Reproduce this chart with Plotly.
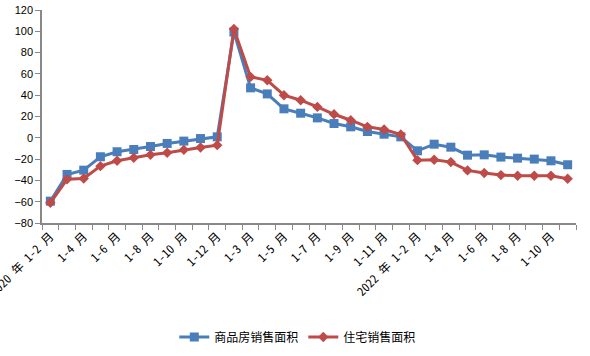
import plotly.graph_objects as go

categories = (
    ["2020 年 1-2 月"] + [f"1-{m} 月" for m in range(3, 13)]
    + ["2021 年 1-2 月"] + [f"1-{m} 月" for m in range(3, 13)]
    + ["2022 年 1-2 月"] + [f"1-{m} 月" for m in range(3, 12)]
)
commercial = [-59.5, -34.4, -30.4, -17.8, -13.1, -11.0, -8.2, -5.3, -3.1, -0.7, 0.9,
              99.3, 46.9, 41.2, 27.2, 23.1, 18.7, 13.4, 10.3, 5.9, 3.4, 0.9,
              -12.2, -6.0, -8.8, -16.3, -16.0, -18.1, -19.1, -20.0, -21.6, -25.3]
residential = [-61.0, -39.0, -38.2, -26.6, -21.6, -18.8, -16.0, -14.1, -11.3, -9.1, -6.9,
               102.2, 57.2, 54.0, 40.0, 35.3, 29.0, 22.1, 16.5, 10.3, 7.8, 3.1,
               -21.0, -20.6, -22.8, -30.6, -33.0, -35.0, -35.6, -35.6, -35.6, -38.4]
series_names = ["商品房销售面积", "住宅销售面积"]

x = list(range(len(categories)))
fig = go.Figure()
fig.add_trace(go.Scatter(x=x, y=commercial, name=series_names[0], mode="lines+markers",
                         line=dict(color="#4A7EBB", width=3),
                         marker=dict(symbol="square", size=9, color="#4A7EBB")))
fig.add_trace(go.Scatter(x=x, y=residential, name=series_names[1], mode="lines+markers",
                         line=dict(color="#BE4B48", width=3),
                         marker=dict(symbol="diamond", size=8, color="#BE4B48")))

tickvals = x[::2]
ticktext = categories[::2]
fig.update_layout(
    width=590, height=356,
    margin=dict(l=42, r=14, t=10, b=133, autoexpand=False),
    paper_bgcolor="white", plot_bgcolor="white",
    font=dict(family="Liberation Sans, Noto Sans CJK SC", size=11, color="black"),
    showlegend=True,
    legend=dict(orientation="h", x=0.479, xanchor="center", y=-0.535, yanchor="middle",
                font=dict(size=12, family="Noto Sans Mono CJK SC, Noto Sans CJK SC"),
                itemwidth=30),
    xaxis=dict(range=[-0.5, len(categories) - 0.5], tickvals=tickvals, ticktext=ticktext,
               tickangle=-45, ticks="outside", ticklen=0, showgrid=False, zeroline=False,
               showline=True, linecolor="#888888", linewidth=1.5, automargin=False,
               ticklabeloverflow="allow",
               tickfont=dict(size=12, family="Noto Sans Mono CJK SC, Noto Sans CJK SC"),
               minor=dict(tickvals=[i - 0.5 for i in range(len(categories) + 1)],
                          ticks="outside", ticklen=5, tickcolor="#888888", showgrid=False)),
    yaxis=dict(range=[-80, 120], dtick=20, ticks="outside", ticklen=5, tickcolor="#888888",
               showgrid=False, zeroline=False, showline=True, linecolor="#888888", linewidth=1.5,
               automargin=False, ticklabeloverflow="allow", tickfont=dict(size=11)),
)
fig.write_html("out.html", config={"displayModeBar": False},
               post_script="document.body.style.margin='0';document.body.style.padding='0';")
